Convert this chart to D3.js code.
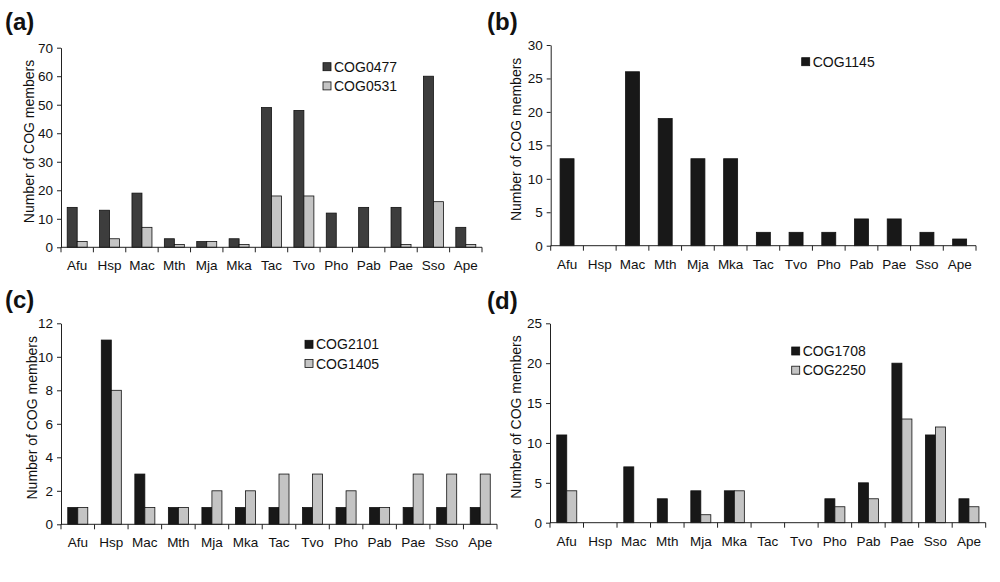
<!DOCTYPE html>
<html>
<head>
<meta charset="utf-8">
<script src="https://cdn.jsdelivr.net/npm/d3@7"></script>
<style>
  html, body { margin: 0; padding: 0; background: #fff; }
  svg { display: block; font-family: "Liberation Sans", Arial, sans-serif; }
</style>
</head>
<body>
<svg id="chart" width="1000" height="582"></svg>
<script>
// ---- data ----
const categories = ["Afu","Hsp","Mac","Mth","Mja","Mka","Tac","Tvo","Pho","Pab","Pae","Sso","Ape"];

const seriesA = ["COG0477","COG0531"];
const cog0477 = [14,13,19,3,2,3,49,48,12,14,14,60,7];
const cog0531 = [2,3,7,1,2,1,18,18,0,0,1,16,1];

const seriesB = ["COG1145"];
const cog1145 = [13,0,26,19,13,13,2,2,2,4,4,2,1];

const seriesC = ["COG2101","COG1405"];
const cog2101 = [1,11,3,1,1,1,1,1,1,1,1,1,1];
const cog1405 = [1,8,1,1,2,2,3,3,2,1,3,3,3];

const seriesD = ["COG1708","COG2250"];
const cog1708 = [11,0,7,3,4,4,0,0,3,5,20,11,3];
const cog2250 = [4,0,0,0,1,4,0,0,2,3,13,12,2];

const yTicksA = [0,10,20,30,40,50,60,70];
const yTicksB = [0,5,10,15,20,25,30];
const yTicksC = [0,2,4,6,8,10,12];
const yTicksD = [0,5,10,15,20,25];

const panelLabels = ["(a)","(b)","(c)","(d)"];
const yAxisTitle = "Number of COG members";

// ---- layout ----
const panels = [
  { label: panelLabels[0], lx: 5, ly: 30, left: 61, right: 482, top: 47.7, bottom: 247.3,
    ticks: yTicksA, series: seriesA, values: [cog0477, cog0531], colors: ["#3d3d3d","#c4c4c4"],
    pad: 0.62, legX: 323, legY: 66.7, titleX: 29 },
  { label: panelLabels[1], lx: 487, ly: 30, left: 550.7, right: 976, top: 45, bottom: 245.7,
    ticks: yTicksB, series: seriesB, values: [cog1145], colors: ["#181818"],
    pad: 0.67, legX: 801.7, legY: 61.7, titleX: 516 },
  { label: panelLabels[2], lx: 5, ly: 308, left: 61, right: 497, top: 323.3, bottom: 524.3,
    ticks: yTicksC, series: seriesC, values: [cog2101, cog1405], colors: ["#181818","#c4c4c4"],
    pad: 0.675, legX: 305, legY: 344.3, titleX: 31.5 },
  { label: panelLabels[3], lx: 487, ly: 309, left: 550, right: 985.7, top: 323.3, bottom: 522.7,
    ticks: yTicksD, series: seriesD, values: [cog1708, cog2250], colors: ["#181818","#c4c4c4"],
    pad: 0.675, legX: 791.7, legY: 351, titleX: 516 }
];

const svg = d3.select("#chart");

panels.forEach(p => {
  const g = svg.append("g");
  const x0 = d3.scaleBand().domain(categories).range([p.left, p.right]).paddingInner(0).paddingOuter(0);
  const x1 = d3.scaleBand().domain(p.series).range([0, x0.bandwidth()]).paddingInner(0).paddingOuter(p.pad);
  const y = d3.scaleLinear().domain([0, d3.max(p.ticks)]).range([p.bottom, p.top]);

  // bars
  p.series.forEach((s, si) => {
    g.append("g").selectAll("rect")
      .data(categories.map((c, i) => ({ c, v: p.values[si][i] })))
      .join("rect")
      .filter(d => d.v > 0)
      .attr("x", d => x0(d.c) + x1(s))
      .attr("y", d => y(d.v))
      .attr("width", x1.bandwidth())
      .attr("height", d => y(0) - y(d.v))
      .attr("fill", p.colors[si])
      .attr("stroke", "#111")
      .attr("stroke-width", 0.8);
  });

  // y axis
  const yAxis = g.append("g")
    .attr("transform", `translate(${p.left},0)`)
    .call(d3.axisLeft(y).tickValues(p.ticks).tickSize(4).tickSizeOuter(0).tickPadding(4));
  yAxis.selectAll("text").attr("font-size", 13.5).attr("fill", "#111").attr("font-family", "Liberation Sans, Arial, sans-serif");
  yAxis.selectAll("line, path").attr("stroke", "#222");

  // x axis: ticks at category boundaries
  const xg = g.append("g").attr("transform", `translate(0,${p.bottom})`);
  xg.append("line").attr("x1", p.left).attr("x2", p.right).attr("y1", 0).attr("y2", 0).attr("stroke", "#222");
  const bounds = categories.map(c => x0(c)).concat([x0(categories[categories.length - 1]) + x0.bandwidth()]);
  xg.selectAll("line.tk").data(bounds).join("line").attr("class", "tk")
    .attr("x1", d => d).attr("x2", d => d).attr("y1", 0).attr("y2", 5).attr("stroke", "#222");
  xg.selectAll("text").data(categories).join("text")
    .attr("x", d => x0(d) + x0.bandwidth() / 2)
    .attr("y", 23)
    .attr("text-anchor", "middle")
    .attr("font-size", 13.5)
    .attr("fill", "#111")
    .text(d => d);

  // y title
  g.append("text")
    .attr("transform", `translate(${p.titleX},${(p.top + p.bottom) / 2 - 6}) rotate(-90)`)
    .attr("text-anchor", "middle")
    .attr("dominant-baseline", "central")
    .attr("font-size", 14)
    .attr("fill", "#111")
    .text(yAxisTitle);

  // panel label
  g.append("text")
    .attr("x", p.lx).attr("y", p.ly)
    .attr("font-size", 24).attr("font-weight", "bold")
    .attr("fill", "#111")
    .text(p.label);

  // legend
  p.series.forEach((s, si) => {
    const cy = p.legY + si * 19.2;
    g.append("rect").attr("x", p.legX).attr("y", cy - 4).attr("width", 8).attr("height", 8)
      .attr("fill", p.colors[si]).attr("stroke", "#111").attr("stroke-width", 0.8);
    g.append("text").attr("x", p.legX + 11).attr("y", cy)
      .attr("dominant-baseline", "central")
      .attr("font-size", 14).attr("fill", "#111").text(s);
  });
});
</script>
</body>
</html>
